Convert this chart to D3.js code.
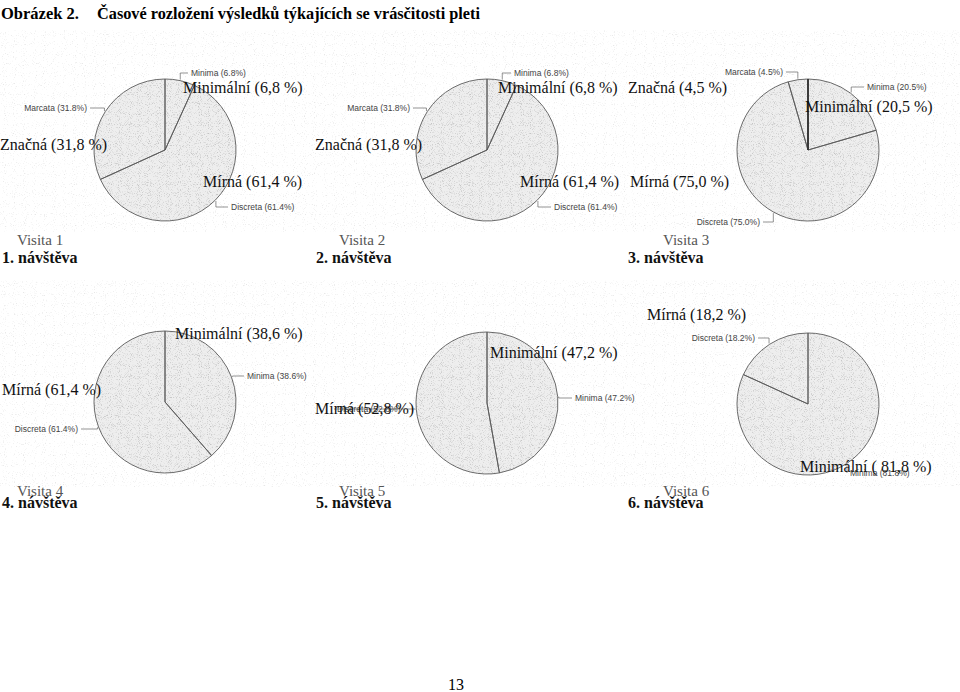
<!DOCTYPE html>
<html>
<head>
<meta charset="utf-8">
<script src="https://cdn.jsdelivr.net/npm/d3@7"></script>
<style>
  body { margin: 0; background: #fff; }
  svg { display: block; }
</style>
</head>
<body>
<svg id="page" width="960" height="692"></svg>
<script>
// Data (%), slices clockwise from 12 o'clock
const categories = ["Minima", "Discreta", "Marcata"];
const czechNames = { Minima: "Minimální", Discreta: "Mírná", Marcata: "Značná" };
const visitNames = ["Visita 1", "Visita 2", "Visita 3", "Visita 4", "Visita 5", "Visita 6"];
const visitTitles = ["1. návštěva", "2. návštěva", "3. návštěva", "4. návštěva", "5. návštěva", "6. návštěva"];
const minimaValues = [6.8, 6.8, 20.5, 38.6, 47.2, 81.8];
const discretaValues = [61.4, 61.4, 75.0, 61.4, 52.8, 18.2];
const marcataValues = [31.8, 31.8, 4.5, 0, 0, 0];

// Layout (pie centres, label placements)
const centres = [[165, 150], [487, 150], [808, 150], [165, 402], [487, 403], [808, 404]];
const radius = 71;
// small Italian labels: [anchor, x, y]
const smallLabelPos = [
  { Minima: ["start", 191, 73], Discreta: ["start", 231, 207], Marcata: ["end", 87, 108] },
  { Minima: ["start", 514, 73], Discreta: ["start", 554, 207], Marcata: ["end", 410, 108] },
  { Minima: ["start", 867, 87], Discreta: ["end", 760, 222], Marcata: ["end", 783, 72] },
  { Minima: ["start", 247, 376], Discreta: ["end", 78, 429] },
  { Minima: ["start", 575, 398], Discreta: ["start", 337, 409] },
  { Minima: ["start", 850, 473], Discreta: ["end", 755, 338] }
];
// Czech overlay labels: [x, baseline]
const czechPos = [
  { Minima: [183, 93], Discreta: [203, 187], Marcata: [0, 150] },
  { Minima: [498, 93], Discreta: [520, 187], Marcata: [315, 150] },
  { Minima: [805, 112], Discreta: [630, 187], Marcata: [628, 93] },
  { Minima: [175, 339], Discreta: [2, 395] },
  { Minima: [490, 358], Discreta: [315, 414] },
  { Minima: [800, 472], Discreta: [647, 320] }
];
const colX = [2, 316, 628];
const rowY = [263, 508];

const svg = d3.select("#page");
const defs = svg.append("defs");

// scanned-paper speckle
const speck = defs.append("filter").attr("id", "speck").attr("x", 0).attr("y", 0).attr("width", 1).attr("height", 1);
speck.append("feTurbulence").attr("type", "fractalNoise").attr("baseFrequency", 0.9).attr("numOctaves", 1).attr("seed", 3).attr("result", "n");
speck.append("feColorMatrix").attr("in", "n").attr("type", "matrix")
  .attr("values", "0 0 0 0 0.6  0 0 0 0 0.6  0 0 0 0 0.6  5 0 0 0 -3.0");

const pieSpeck = defs.append("filter").attr("id", "pieSpeck").attr("x", 0).attr("y", 0).attr("width", 1).attr("height", 1);
pieSpeck.append("feTurbulence").attr("type", "fractalNoise").attr("baseFrequency", 1.1).attr("numOctaves", 1).attr("seed", 7).attr("result", "n");
pieSpeck.append("feColorMatrix").attr("in", "n").attr("type", "matrix")
  .attr("values", "0 0 0 0 0.45  0 0 0 0 0.45  0 0 0 0 0.45  4 0 0 0 -2.1");
pieSpeck.append("feComposite").attr("in2", "SourceGraphic").attr("operator", "in");

// background bands of the scan
[[0, 30, 960, 202], [0, 280, 960, 207]].forEach(([x, y, w, h]) => {
  svg.append("rect").attr("x", x).attr("y", y).attr("width", w).attr("height", h)
    .attr("fill", "#fff").attr("filter", "url(#speck)").attr("opacity", 0.45);
});

// Title
svg.append("text").attr("x", 1).attr("y", 19)
  .style("font", "bold 16.5px 'Liberation Serif', serif").text("Obrázek 2.");
svg.append("text").attr("x", 97).attr("y", 19)
  .attr("textLength", 383).attr("lengthAdjust", "spacingAndGlyphs")
  .style("font", "bold 16.5px 'Liberation Serif', serif")
  .text("Časové rozložení výsledků týkajících se vrásčitosti pleti");

const pie = d3.pie().sort(null).value(d => d.value);
const arc = d3.arc().innerRadius(0).outerRadius(radius);
const fmtIt = d3.format(".1f");
const fmtCz = v => d3.format(".1f")(v).replace(".", ",");

visitNames.forEach((vname, i) => {
  const data = categories
    .map((c, k) => ({ cat: c, value: [minimaValues, discretaValues, marcataValues][k][i] }))
    .filter(d => d.value > 0);
  const [cx, cy] = centres[i];
  const g = svg.append("g").attr("transform", `translate(${cx},${cy})`);
  const arcs = pie(data);

  g.selectAll("path.fill").data(arcs).enter().append("path")
    .attr("class", "fill").attr("d", arc).attr("fill", "#eeeeee");
  g.selectAll("path.spk").data(arcs).enter().append("path")
    .attr("class", "spk").attr("d", arc).attr("fill", "#eeeeee").attr("filter", "url(#pieSpeck)").attr("opacity", 0.7);
  g.selectAll("path.edge").data(arcs).enter().append("path")
    .attr("class", "edge").attr("d", arc).attr("fill", "none")
    .attr("stroke", "#5a5a5a").attr("stroke-width", 0.9);
  // the 12 o'clock radius is printed heavier on visit 3
  if (i === 2) {
    g.append("line").attr("x1", 0).attr("y1", 0).attr("x2", 0).attr("y2", -radius)
      .attr("stroke", "#333").attr("stroke-width", 1.8);
  }

  // small Italian labels with leaders
  arcs.forEach(a => {
    const pos = smallLabelPos[i][a.data.cat];
    if (!pos) return;
    const [anchor, lx, ly] = pos;
    const mid = (a.startAngle + a.endAngle) / 2;
    const ex = cx + Math.sin(mid) * (radius + 1);
    const ey = cy - Math.cos(mid) * (radius + 1);
    const sx = anchor === "start" ? lx - 3 : lx + 3;
    svg.append("polyline")
      .attr("points", `${sx},${ly} ${ex},${ly} ${ex},${ey}`)
      .attr("fill", "none").attr("stroke", "#666").attr("stroke-width", 0.7);
    svg.append("text").attr("x", lx).attr("y", ly + 3)
      .attr("text-anchor", anchor)
      .style("font", "8.5px 'Liberation Sans', Arial, sans-serif").attr("fill", "#444")
      .text(`${a.data.cat} (${fmtIt(a.data.value)}%)`);
  });

  // Czech overlay labels
  arcs.forEach(a => {
    const [tx, ty] = czechPos[i][a.data.cat];
    const pad = (i === 5 && a.data.cat === "Minima") ? " " : "";
    svg.append("text").attr("x", tx).attr("y", ty)
      .style("font", "16px 'Liberation Serif', serif").attr("fill", "#111")
      .text(`${czechNames[a.data.cat]} (${pad}${fmtCz(a.data.value)} %)`);
  });

  const col = i % 3, row = Math.floor(i / 3);
  svg.append("text").attr("x", colX[col] + 15 + (col === 2 ? 20 : 0) + (col === 1 ? 8 : 0)).attr("y", rowY[row] - 18 + (row === 1 ? 6 : 0))
    .style("font", "15px 'Liberation Serif', serif").attr("fill", "#555").text(vname);
  svg.append("text").attr("x", colX[col]).attr("y", rowY[row])
    .style("font", "bold 16px 'Liberation Serif', serif").attr("fill", "#111").text(visitTitles[i]);
});

// page number
svg.append("text").attr("x", 456).attr("y", 690).attr("text-anchor", "middle")
  .style("font", "16px 'Liberation Serif', serif").text("13");
</script>
</body>
</html>
